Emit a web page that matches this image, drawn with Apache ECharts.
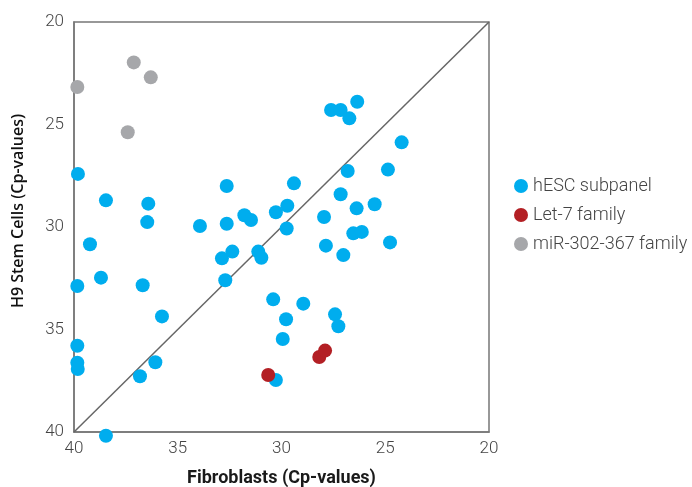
<!DOCTYPE html>
<html>
<head>
<meta charset="utf-8">
<script src="https://cdn.jsdelivr.net/npm/echarts@6/dist/echarts.min.js"></script>
<style>
  html, body { margin: 0; padding: 0; background: #fff; }
  #chart { width: 692px; height: 487px; }
</style>
</head>
<body>
<div id="chart"></div>
<script>
// [fibroblast Cp, H9 stem cell Cp]
const hescPoints = [
  [39.81, 27.41], [38.46, 28.70], [36.42, 28.86], [36.47, 29.76], [39.23, 30.84],
  [38.70, 32.47], [36.69, 32.84], [39.84, 32.88], [35.76, 34.36], [39.84, 35.79],
  [39.84, 36.62], [39.82, 36.93], [36.08, 36.60], [36.82, 37.28], [38.46, 40.18],
  [33.93, 29.95], [32.64, 28.00], [32.64, 29.84], [31.79, 29.43], [31.47, 29.66],
  [32.37, 31.20], [32.87, 31.53], [31.12, 31.20], [30.97, 31.50], [32.71, 32.60],
  [29.40, 27.87], [30.27, 29.28], [29.72, 28.96], [29.75, 30.07], [30.40, 33.53],
  [28.95, 33.74], [29.78, 34.50], [29.94, 35.46], [30.27, 37.46], [27.61, 24.29],
  [27.15, 24.29], [26.73, 24.70], [26.35, 23.89], [24.21, 25.87], [26.81, 27.27],
  [24.87, 27.20], [27.15, 28.40], [27.95, 29.51], [26.38, 29.09], [25.51, 28.89],
  [27.86, 30.91], [27.02, 31.37], [26.54, 30.31], [26.13, 30.24], [24.77, 30.75],
  [27.42, 34.26], [27.26, 34.84]
]
const let7Points = [[30.64, 37.22], [28.18, 36.34], [27.90, 36.03]]
const mir302Points = [[39.84, 23.17], [37.12, 21.97], [36.30, 22.70], [37.41, 25.38]]
const diagonal = [[40, 40], [20, 20]]
const seriesNames = ['hESC subpanel', 'Let-7 family', 'miR-302-367 family']

const chart = echarts.init(document.getElementById('chart'))

const axisText = { color: '#444', fontSize: 17, fontFamily: 'Roboto', fontWeight: 300 }

const dot = (name, data, color) => ({
  name,
  type: 'scatter',
  data,
  symbol: 'circle',
  symbolSize: 14,
  clip: false,
  itemStyle: { color, opacity: 1 },
  z: 3
})

chart.setOption({
  animation: false,
  grid: {
    left: 74, right: 203, top: 22, bottom: 55,
    outerBoundsMode: 'none',
    show: true, borderColor: '#777', borderWidth: 1.5
  },
  legend: {
    data: seriesNames,
    orient: 'vertical',
    left: 509,
    top: 172,
    icon: 'circle',
    itemWidth: 14,
    itemHeight: 14,
    itemGap: 11,
    itemTextGap: 14,
    textStyle: { color: '#444', fontSize: 18, fontFamily: 'Roboto', fontWeight: 300 }
  },
  xAxis: {
    type: 'value',
    min: 20,
    max: 40,
    interval: 5,
    inverse: true,
    name: 'Fibroblasts (Cp-values)',
    nameLocation: 'middle',
    nameGap: 37,
    nameTextStyle: { color: '#1a1a1a', fontSize: 18, fontFamily: 'Roboto', fontWeight: 'bold' },
    axisLine: { show: true, lineStyle: { color: '#777', width: 1.5 } },
    axisTick: { show: false },
    axisLabel: Object.assign({ margin: 8 }, axisText),
    splitLine: { show: false }
  },
  yAxis: {
    type: 'value',
    min: 20,
    max: 40,
    interval: 5,
    inverse: true,
    name: 'H9 Stem Cells (Cp-values)',
    nameLocation: 'middle',
    nameGap: 48,
    nameTextStyle: {
      color: '#111', fontSize: 16, fontFamily: 'Open Sans', fontWeight: 600,
      padding: [0, 0, 0, 32]
    },
    axisLine: { show: true, lineStyle: { color: '#777', width: 1.5 } },
    axisTick: { show: false },
    axisLabel: Object.assign({ margin: 10 }, axisText),
    splitLine: { show: false }
  },
  series: [
    {
      name: 'diagonal',
      type: 'line',
      data: diagonal,
      showSymbol: false,
      silent: true,
      lineStyle: { color: '#666', width: 1.5 },
      z: 1
    },
    dot(seriesNames[0], hescPoints, '#00adee'),
    dot(seriesNames[1], let7Points, '#b31f24'),
    dot(seriesNames[2], mir302Points, '#a6a7aa')
  ]
})
</script>
</body>
</html>
